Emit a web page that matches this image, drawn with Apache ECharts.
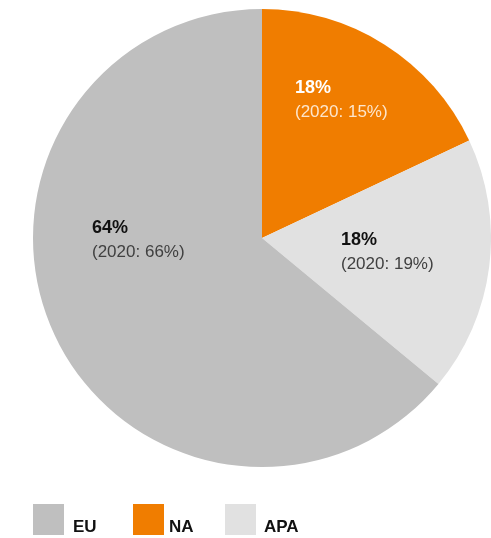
<!DOCTYPE html>
<html>
<head>
<meta charset="utf-8">
<script src="https://cdn.jsdelivr.net/npm/echarts@6/dist/echarts.min.js"></script>
<style>
html,body{margin:0;padding:0;background:#fff;}
#c{width:491px;height:538px;}
</style>
</head>
<body>
<div id="c"></div>
<script>
// Data (pie drawn clockwise from 12 o'clock: NA, APA, EU)
const categories = ['NA', 'APA', 'EU'];
const shares = [18, 18, 64];
const shares2020 = [15, 19, 66];
const legendOrder = ['EU', 'NA', 'APA'];

const colors = {NA: '#f07d00', APA: '#e1e1e1', EU: '#bfbfbf'};
const labelColors = {NA: ['#ffffff', '#fde6cc'], APA: ['#111111', '#404040'], EU: ['#111111', '#404040']};
const labelPos = {NA: [295, 76], APA: [341, 228], EU: [92, 216]};
const FONT = "'Liberation Sans', Arial, sans-serif";

const chart = echarts.init(document.getElementById('c'), null, {renderer: 'canvas'});

const data = categories.map((c, i) => ({
  name: c,
  value: shares[i],
  itemStyle: {color: colors[c]},
  label: {
    formatter: '{b|' + shares[i] + '%}\n{n|(2020: ' + shares2020[i] + '%)}',
    rich: {
      b: {fontFamily: FONT, fontSize: 18, fontWeight: 'bold', color: labelColors[c][0], lineHeight: 24, align: 'left'},
      n: {fontFamily: FONT, fontSize: 17, color: labelColors[c][1], lineHeight: 24, align: 'left'}
    }
  }
}));

const legendLefts = [33, 133, 225];
const legendTextPad = [4, 0, 3];
const legends = legendOrder.map((name, i) => ({
  data: [name],
  left: legendLefts[i],
  top: 503,
  padding: 0,
  orient: 'horizontal',
  itemWidth: 31,
  itemHeight: 31,
  itemGap: 0,
  icon: 'rect',
  selectedMode: false,
  formatter: '{t|{name}}',
  textStyle: {
    fontFamily: FONT, fontSize: 17, fontWeight: 'bold', color: '#111',
    rich: {t: {fontFamily: FONT, fontSize: 17, fontWeight: 'bold', color: '#111', lineHeight: 18, padding: [16, 0, 0, legendTextPad[i]]}}
  },
  itemStyle: {borderWidth: 0}
}));

chart.setOption({
  animation: false,
  backgroundColor: '#ffffff',
  legend: legends,
  series: [{
    type: 'pie',
    center: [262, 238],
    radius: 229,
    startAngle: 90,
    clockwise: true,
    avoidLabelOverlap: false,
    itemStyle: {borderWidth: 0},
    label: {show: true, position: 'inside'},
    labelLine: {show: false},
    emphasis: {disabled: true},
    labelLayout: function (p) {
      const pos = labelPos[categories[p.dataIndex]];
      return {x: pos[0], y: pos[1], align: 'left', verticalAlign: 'top'};
    },
    data: data
  }]
});
</script>
</body>
</html>
